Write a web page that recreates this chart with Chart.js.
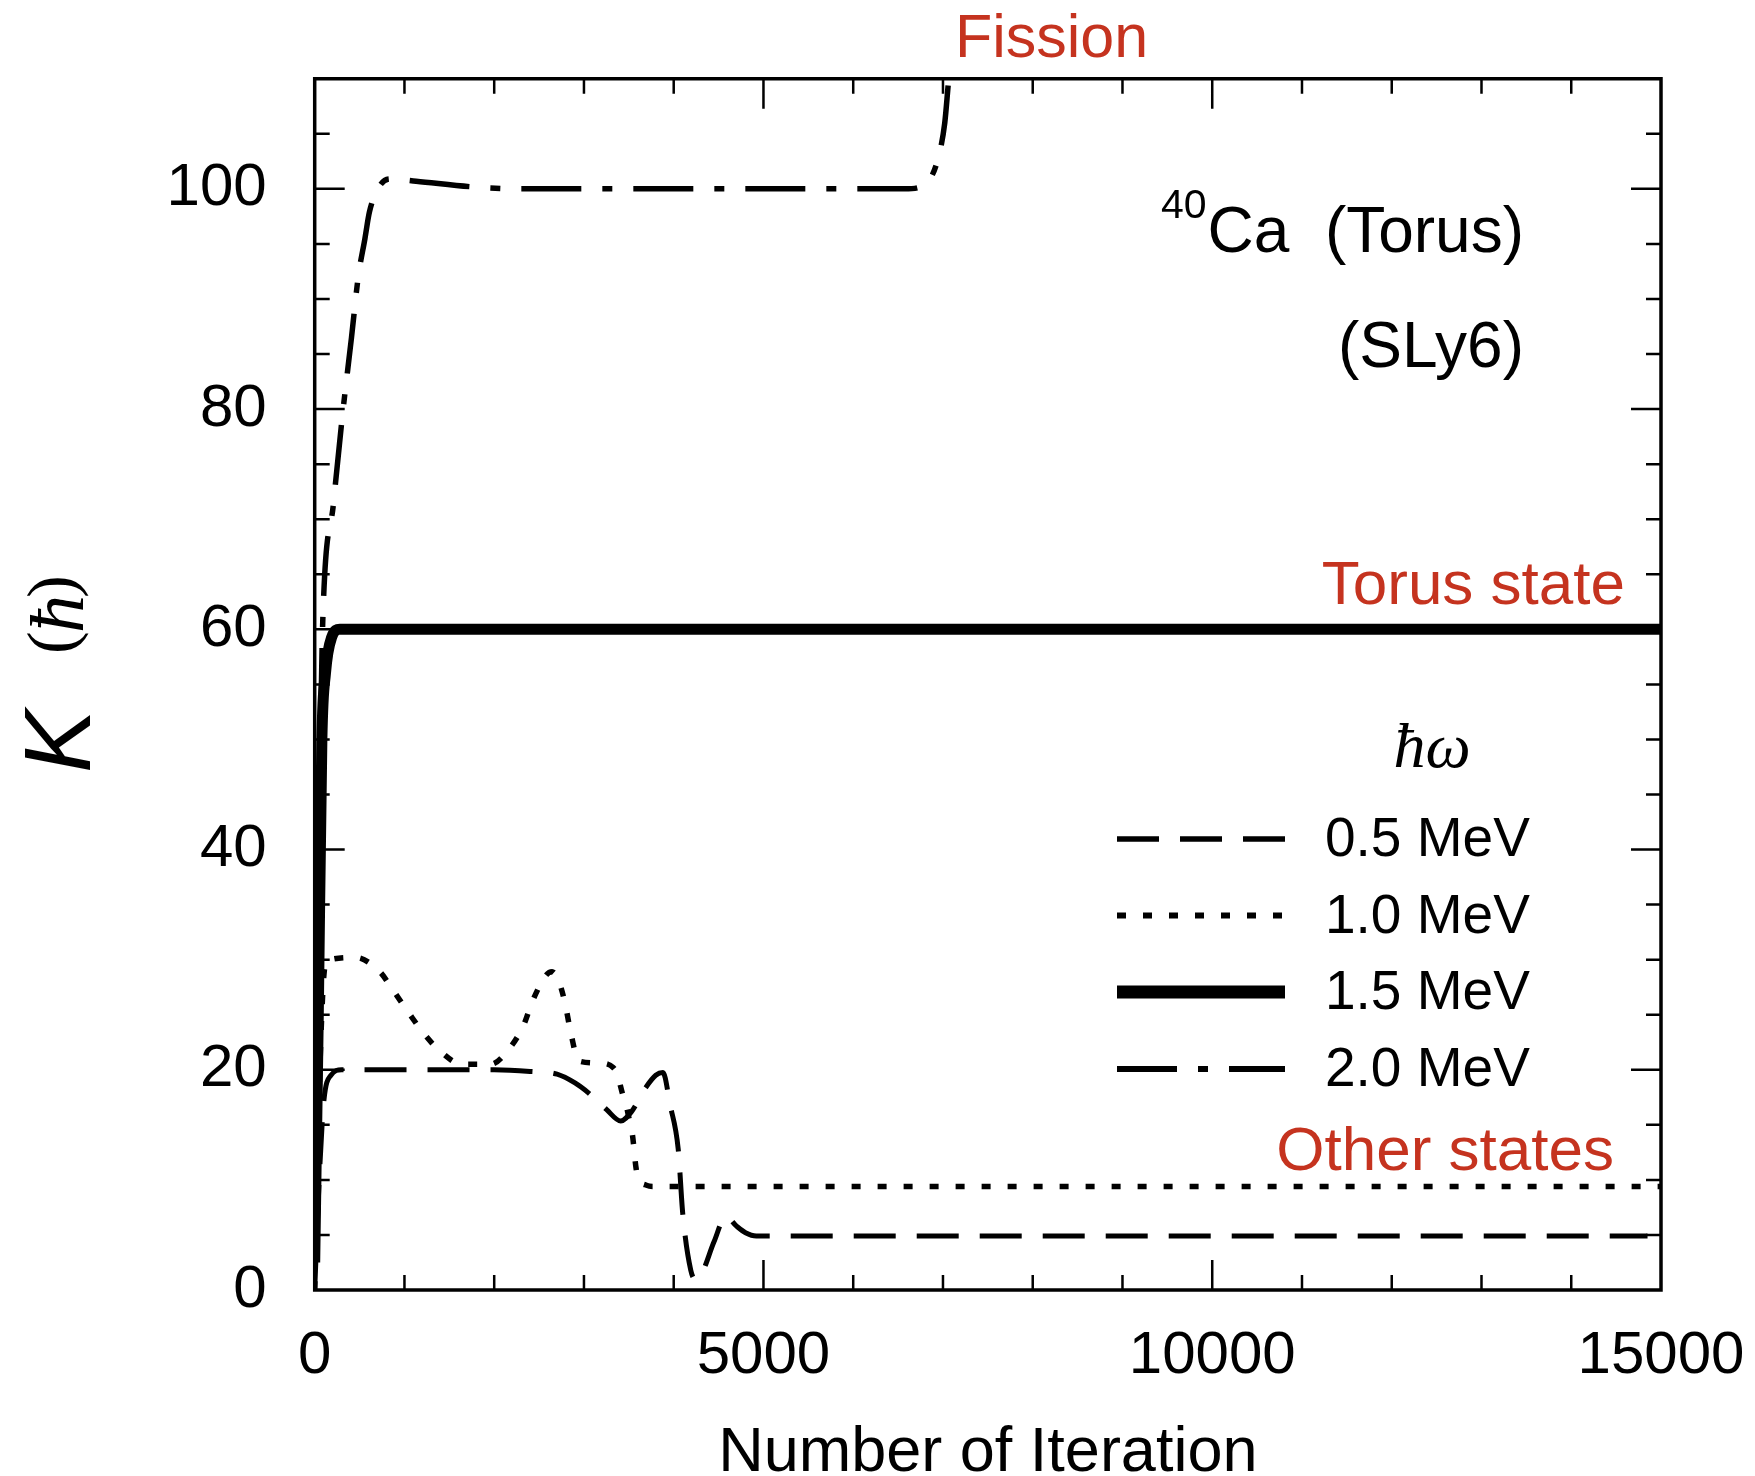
<!DOCTYPE html>
<html>
<head>
<meta charset="utf-8">
<title>K vs iteration</title>
<script src="https://cdn.jsdelivr.net/npm/chart.js@4.4.1/dist/chart.umd.min.js"></script>
<style>
  html, body { margin: 0; padding: 0; background: #fff; }
  canvas { display: block; }
</style>
</head>
<body>
<canvas id="chart" width="1755" height="1476"></canvas>
<script>
// values
var seriesLabels = ["0.5 MeV", "1.0 MeV", "1.5 MeV", "2.0 MeV"];

var iter05 = [0, 50, 100, 180, 300, 1000, 2000, 2400, 2700, 2900, 3050, 3250, 3410, 3530, 3690, 3800, 3880, 3960, 4050, 4100, 4190, 4240, 4300, 4450, 4580, 4700, 4800, 4920, 14850];
var k05    = [0, 10, 17, 19.5, 20, 20, 20, 19.85, 19.6, 18.8, 17.9, 16.4, 15.35, 16.2, 18.4, 19.5, 19.75, 16.8, 12.8, 7.0, 1.8, 1.0, 1.3, 4.4, 6.7, 5.8, 5.2, 4.9, 4.9];

var iter10 = [0, 40, 90, 130, 450, 725, 875, 1045, 1215, 1410, 1640, 1960, 2175, 2325, 2430, 2580, 2645, 2730, 2790, 2855, 2940, 3175, 3325, 3370, 3430, 3475, 3500, 3540, 3580, 3605, 3700, 3775, 15000];
var k10    = [0, 15, 27, 29.9, 30.2, 28.9, 27.2, 25.2, 23.3, 21.6, 20.5, 20.5, 22.0, 24.0, 26.3, 28.6, 28.9, 27.8, 26.0, 23.3, 20.8, 20.6, 20.2, 19.6, 17.8, 16.6, 15.65, 14.1, 11.1, 10.2, 9.5, 9.4, 9.4];

var iter15 = [0, 40, 80, 120, 190, 280, 15000];
var k15    = [2.5, 25, 50, 56, 59.3, 60, 60];

var iter20 = [0, 40, 75, 95, 210, 310, 410, 485, 560, 610, 710, 835, 1130, 1730, 2330, 6570, 6720, 6840, 6940, 7020, 7060, 7100];
var k20    = [2, 30, 55, 62, 71.5, 79.5, 86.5, 92, 95.5, 97.9, 100.1, 100.9, 100.7, 100.2, 100, 100, 100.1, 100.7, 102.6, 106, 109.6, 113];

var xTickStep = 1000, xMajor = 5000;
var yTickStep = 5, yMajor = 20;

var SANS = '"Liberation Sans", Arial, Helvetica, sans-serif';
var SERIF = '"Liberation Serif", "Times New Roman", serif';
var RED = '#c5331f';

function pts(xs, ys) {
  return xs.map(function (x, i) { return { x: x, y: ys[i] }; });
}

// inward ticks on all four sides + frame
var frameTicks = {
  id: 'frameTicks',
  afterDatasetsDraw: function (chart) {
    var ctx = chart.ctx, a = chart.chartArea;
    var x = chart.scales.x, y = chart.scales.y;
    ctx.save();
    ctx.strokeStyle = '#000';
    ctx.lineWidth = 2.5;
    ctx.beginPath();
    x.ticks.forEach(function (t) {
      if (t.value <= x.min || t.value >= x.max) return;
      var px = x.getPixelForValue(t.value);
      var len = t.value % xMajor === 0 ? 30 : 15;
      ctx.moveTo(px, a.bottom); ctx.lineTo(px, a.bottom - len);
      ctx.moveTo(px, a.top); ctx.lineTo(px, a.top + len);
    });
    y.ticks.forEach(function (t) {
      if (t.value <= y.min || t.value >= y.max) return;
      var py = y.getPixelForValue(t.value);
      var len = t.value % yMajor === 0 ? 30 : 15;
      ctx.moveTo(a.left, py); ctx.lineTo(a.left + len, py);
      ctx.moveTo(a.right, py); ctx.lineTo(a.right - len, py);
    });
    ctx.stroke();
    ctx.lineWidth = 3.5;
    ctx.strokeRect(a.left, a.top, a.right - a.left, a.bottom - a.top);
    ctx.restore();
  }
};

// legend, labels and y-axis title
var annotations = {
  id: 'annotations',
  afterDraw: function (chart) {
    var ctx = chart.ctx;
    ctx.save();
    ctx.fillStyle = '#000';
    ctx.textBaseline = 'alphabetic';

    // legend
    ctx.font = 'italic 64px ' + SERIF;
    ctx.textAlign = 'center';
    ctx.fillText('\u0127\u03c9', 1432, 767);

    var rows = [839, 915.5, 992, 1069];
    chart.data.datasets.forEach(function (ds, i) {
      ctx.save();
      ctx.strokeStyle = ds.borderColor;
      ctx.lineWidth = i === 2 ? 13 : ds.borderWidth + 0.5;
      ctx.setLineDash(ds.borderDash || []);
      ctx.beginPath();
      ctx.moveTo(1117, rows[i]);
      ctx.lineTo(1285, rows[i]);
      ctx.stroke();
      ctx.restore();
      ctx.font = '55px ' + SANS;
      ctx.textAlign = 'left';
      ctx.fillText(ds.label, 1325, rows[i] + 17);
    });

    // nucleus label
    ctx.font = '64px ' + SANS;
    ctx.textAlign = 'right';
    ctx.fillText('Ca  (Torus)', 1524, 252);
    var caLeft = 1524 - ctx.measureText('Ca  (Torus)').width;
    ctx.fillText('(SLy6)', 1524, 367);
    ctx.font = '41px ' + SANS;
    ctx.fillText('40', caLeft - 1, 218);

    // red state labels
    ctx.fillStyle = RED;
    ctx.font = '61px ' + SANS;
    ctx.textAlign = 'left';
    ctx.fillText('Fission', 955, 57);
    ctx.textAlign = 'right';
    ctx.font = '62px ' + SANS;
    ctx.fillText('Torus state', 1625, 604);
    ctx.fillText('Other states', 1614, 1170);

    // y-axis title: K (ħ)
    ctx.fillStyle = '#000';
    ctx.translate(90, 768);
    ctx.rotate(-Math.PI / 2);
    ctx.textAlign = 'left';
    ctx.font = 'italic 95px ' + SANS;
    ctx.fillText('K', -5, 0);
    ctx.font = '68px ' + SERIF;
    ctx.fillText('(', 114, -16);
    ctx.fillText(')', 170, -16);
    ctx.font = 'italic 76px ' + SERIF;
    ctx.fillText('\u0127', 135, -7);
    ctx.restore();
  }
};

var ctx = document.getElementById('chart').getContext('2d');
var chart = new Chart(ctx, {
  type: 'line',
  data: {
    datasets: [
      {
        label: seriesLabels[0],
        data: pts(iter05, k05),
        borderColor: '#000',
        borderWidth: 5,
        borderDash: [42, 21],
        cubicInterpolationMode: 'monotone',
        clip: 0
      },
      {
        label: seriesLabels[1],
        data: pts(iter10, k10),
        borderColor: '#000',
        borderWidth: 5.5,
        borderDash: [9, 17],
        cubicInterpolationMode: 'monotone',
        clip: 0
      },
      {
        label: seriesLabels[2],
        data: pts(iter15, k15),
        borderColor: '#000',
        borderWidth: 11,
        cubicInterpolationMode: 'monotone',
        clip: 0
      },
      {
        label: seriesLabels[3],
        data: pts(iter20, k20),
        borderColor: '#000',
        borderWidth: 5.5,
        borderDash: [60, 21, 10, 21],
        cubicInterpolationMode: 'monotone',
        clip: 0
      }
    ]
  },
  options: {
    responsive: false,
    animation: false,
    layout: { padding: { top: 78.75, right: 94, left: 0, bottom: 0 } },
    elements: { point: { radius: 0 } },
    plugins: {
      legend: { display: false },
      tooltip: { enabled: false }
    },
    scales: {
      x: {
        type: 'linear',
        min: 0,
        max: 15000,
        // fixed box so the plot area sits where the original's frame is
        afterFit: function (s) {
          s.height = 186;
          s.paddingLeft = 0;
          s.paddingRight = 0;
        },
        grid: { display: false, drawTicks: false },
        border: { display: false },
        ticks: {
          stepSize: xTickStep,
          autoSkip: false,
          maxRotation: 0,
          padding: 30,
          color: '#000',
          font: { size: 60, family: SANS },
          callback: function (v) { return v % xMajor === 0 ? v : ''; }
        },
        title: {
          display: true,
          text: 'Number of Iteration',
          color: '#000',
          padding: 0,
          font: { size: 63, family: SANS, lineHeight: 0.72 }
        }
      },
      y: {
        min: 0,
        max: 110,
        afterFit: function (s) {
          s.width = 314.7;
          s.paddingTop = 0;
          s.paddingBottom = 0;
        },
        grid: { display: false, drawTicks: false },
        border: { display: false },
        ticks: {
          stepSize: yTickStep,
          autoSkip: false,
          padding: 48,
          color: '#000',
          font: { size: 60, family: SANS },
          callback: function (v) { return (v % yMajor === 0 && v <= 100) ? v : ''; }
        }
      }
    }
  },
  plugins: [frameTicks, annotations]
});
</script>
</body>
</html>
